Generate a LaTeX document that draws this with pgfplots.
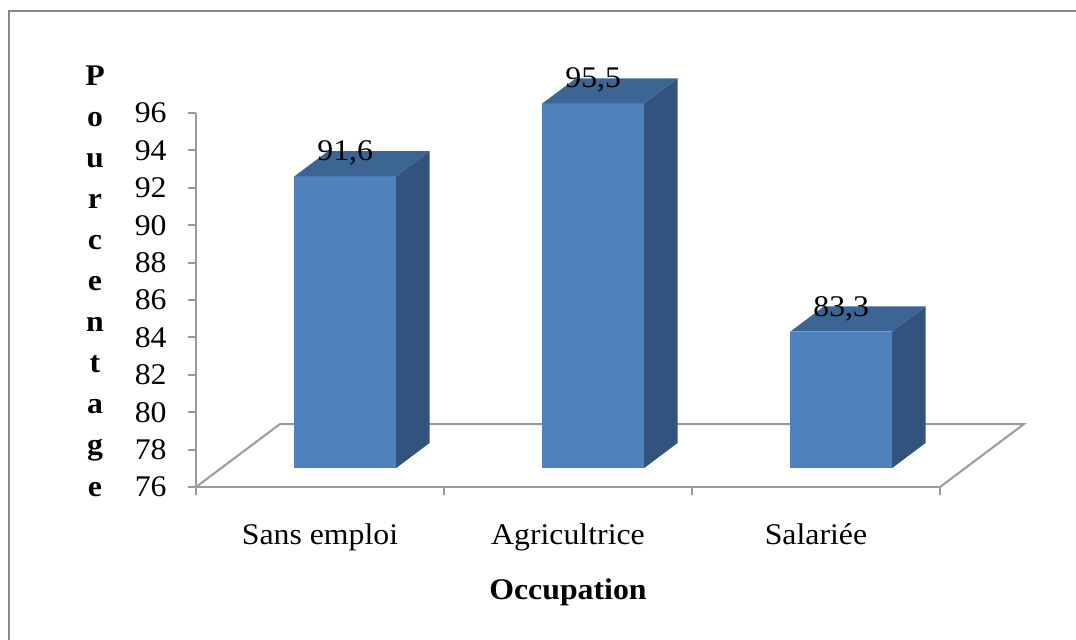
\documentclass[border=0pt]{standalone}
\usepackage{fontspec}
\setmainfont{Liberation Serif}[FakeStretch=1.06]
\usepackage{pgfplots}
\usepackage{pgfplotstable}
\pgfplotsset{compat=1.18}

\definecolor{barfront}{HTML}{4F81BD}
\definecolor{barside}{HTML}{31537E}
\definecolor{bartop}{HTML}{3C6594}
\definecolor{axisgray}{HTML}{9A9A9A}
\definecolor{framegray}{HTML}{8A8A8A}

% pourcentage par occupation
\pgfplotstableread{
i v
0 91.6
1 95.5
2 83.3
}\occdata

% unit square, mapped onto each face of a box
\pgfplotstableread{
a b
0 0
1 0
1 1
0 1
}\unitsq

% oblique depth of the floor: 0.33871 x-units and 3.369 y-units;
% the boxes sit between 30% and 70% of that depth
\def\hw{0.205}      % half width of a box
\def\fdx{0.10161}   % x shift of the front face
\def\fdy{1.0107}    % y shift of the front face
\def\ddx{0.13548}   % x extent of the box depth
\def\ddy{1.3476}    % y extent of the box depth

\begin{document}
\fontsize{15}{18}\selectfont
\begin{tikzpicture}
\begin{axis}[
  scale only axis,
  width=372pt, height=187pt,
  xmin=0, xmax=3, ymin=76, ymax=96,
  clip=false,
  axis x line*=bottom, axis y line*=left,
  axis line style={axisgray, line width=1pt},
  tick align=outside,
  ytick={76,78,...,96},
  xtick={0.5,1.5,2.5},
  xticklabels={Sans emploi, Agricultrice, Salariée},
  minor xtick={0,1,2,3},
  major x tick style={draw=none},
  minor x tick style={axisgray, line width=1pt},
  major y tick style={axisgray, line width=1pt},
  major tick length=4pt, minor tick length=4pt,
  /pgf/number format/assume math mode=true,
  tick label style={font=\fontsize{15}{18}\selectfont},
  yticklabel style={xshift=-5.5pt},
  xticklabel style={yshift=-9pt},
]
% floor
\addplot[axisgray, line width=1pt, mark=none]
  coordinates {(0,76) (0.33871,79.369) (3.33871,79.369) (3,76)};

% boxes
\pgfplotsinvokeforeach{0,1,2}{
  \pgfplotstablegetelem{#1}{v}\of\occdata
  \pgfmathsetmacro\V{\pgfplotsretval}
  \pgfmathsetmacro\C{#1+0.5+\fdx}
  % front face
  \addplot[fill=barfront, draw=none, mark=none]
    table[x expr=\C-\hw+2*\hw*\thisrow{a},
          y expr=76+\fdy+\thisrow{b}*(\V-76)] {\unitsq};
  % side face
  \addplot[fill=barside, draw=none, mark=none]
    table[x expr=\C+\hw+\ddx*\thisrow{a},
          y expr=76+\fdy+\ddy*\thisrow{a}+\thisrow{b}*(\V-76)] {\unitsq};
  % top face
  \addplot[fill=bartop, draw=none, mark=none]
    table[x expr=\C-\hw+2*\hw*\thisrow{a}+\ddx*\thisrow{b},
          y expr=\V+\fdy+\ddy*\thisrow{b}] {\unitsq};
}

% value labels
\addplot[draw=none, mark=none,
  nodes near coords={\pgfmathprintnumber[fixed, fixed zerofill, precision=1, use comma]{\pgfplotspointmeta}},
  point meta=explicit,
  every node near coord/.style={anchor=center, yshift=21pt, font=\fontsize{15}{18}\selectfont}]
  table[x expr=\thisrow{i}+0.5+\fdx, y=v, meta=v] {\occdata};

% axis titles
\node[anchor=north, inner sep=0pt, align=center,
      font=\bfseries\fontsize{15}{20.55}\selectfont]
  at (axis cs:-0.4073,98.567) {P\\o\\u\\r\\c\\e\\n\\t\\a\\g\\e};
\node[anchor=base, inner sep=0pt, font=\bfseries\fontsize{15}{18}\selectfont]
  at (axis cs:1.5,69.96) {Occupation};

% outer frame
\draw[framegray, line width=1.25pt]
  (rel axis cs:-0.25134,-0.41) -- (rel axis cs:-0.25134,1.27273) -- (rel axis cs:1.19,1.27273);

\coordinate (bbSW) at (rel axis cs:-0.26344,-0.40642);
\coordinate (bbNE) at (rel axis cs:1.18280,1.30214);
\end{axis}
\pgfresetboundingbox
\path[use as bounding box] (bbSW) rectangle (bbNE);
\end{tikzpicture}
\end{document}
